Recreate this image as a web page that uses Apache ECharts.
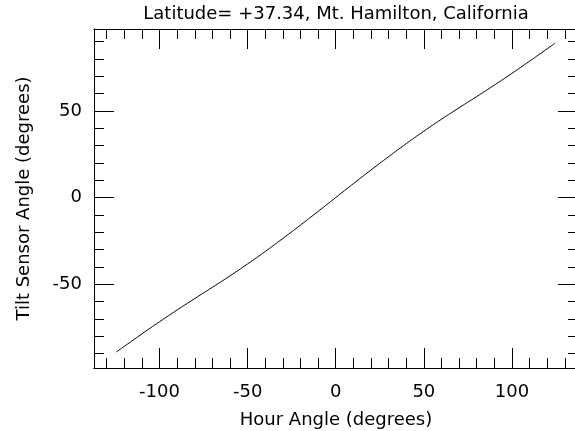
<!DOCTYPE html>
<html><head><meta charset="utf-8">
<script src="https://cdn.jsdelivr.net/npm/echarts@6/dist/echarts.min.js"></script>
<style>html,body{margin:0;padding:0;background:#fff}#c{width:575px;height:431px}</style>
</head><body><div id="c"></div>
<script>
const hourAngle = [-124.5,-120,-110,-100,-90,-80,-70,-60,-50,-40,-30,-20,-10,0,10,20,30,40,50,60,70,80,90,100,110,120,124.5];
const tiltAngle = [-89.1,-85.9,-78.7,-71.7,-64.9,-58.3,-51.8,-45.2,-38.3,-31.1,-23.6,-15.9,-8,0,8,15.9,23.6,31.1,38.3,45.2,51.8,58.3,64.9,71.7,78.7,85.9,89.1];
const xMajorTicks = [-100,-50,0,50,100];
const xMinorTicks = [-130,-120,-110,-90,-80,-70,-60,-40,-30,-20,-10,10,20,30,40,60,70,80,90,110,120,130];
const yMajorTicks = [-50,0,50];
const yMinorTicks = [-90,-80,-70,-60,-40,-30,-20,-10,10,20,30,40,60,70,80,90];
const titleText = 'Latitude= +37.34, Mt. Hamilton, California';
const xName = 'Hour Angle (degrees)';
const yName = 'Tilt Sensor Angle (degrees)';

const FONT = 'DejaVu Sans';
const FS = 18;
const X_MIN = -137.2, X_MAX = 137.5, Y_MIN = -98.4, Y_MAX = 97.3;
const lineStyle = {color:'#000', width:1};

function xAx(pos, ticks, len, labels, name) {
  return {
    type:'value', position:pos, min:X_MIN, max:X_MAX,
    axisLine:{show:true, onZero:false, lineStyle},
    axisTick:{show:true, inside:true, length:len, customValues:ticks, lineStyle},
    axisLabel:{show:labels, customValues:ticks, margin:15, color:'#000', fontFamily:FONT, fontSize:FS},
    splitLine:{show:false},
    name: name || '', nameLocation:'middle', nameGap:43,
    nameTextStyle:{color:'#000', fontFamily:FONT, fontSize:FS}
  };
}
function yAx(pos, ticks, len, labels, name) {
  return {
    type:'value', position:pos, min:Y_MIN, max:Y_MAX,
    axisLine:{show:true, onZero:false, lineStyle},
    axisTick:{show:true, inside:true, length:len, customValues:ticks, lineStyle},
    axisLabel:{show:labels, customValues:ticks, margin:12, color:'#000', fontFamily:FONT, fontSize:FS},
    splitLine:{show:false},
    name: name || '', nameLocation:'middle', nameGap:61,
    nameTextStyle:{color:'#000', fontFamily:FONT, fontSize:FS}
  };
}

const data = hourAngle.map((h,i)=>[h, tiltAngle[i]]);
const chart = echarts.init(document.getElementById('c'), null, {renderer:'canvas'});
chart.setOption({
  animation:false,
  backgroundColor:'#fff',
  title:{text:titleText, left:336, textAlign:'center', top:5, padding:0,
    textStyle:{color:'#000', fontFamily:FONT, fontSize:FS, fontWeight:'normal'}},
  grid:{left:94, right:-3, top:29, bottom:63, containLabel:false, outerBoundsMode:'none'},
  xAxis:[
    xAx('bottom', xMajorTicks, 20, true, xName),
    xAx('bottom', xMinorTicks, 10, false),
    xAx('top', xMajorTicks, 20, false),
    xAx('top', xMinorTicks, 10, false)
  ],
  yAxis:[
    yAx('left', yMajorTicks, 20, true, yName),
    yAx('left', yMinorTicks, 10, false),
    yAx('right', yMajorTicks, 20, false),
    yAx('right', yMinorTicks, 10, false)
  ],
  series:[{
    type:'line', data, xAxisIndex:0, yAxisIndex:0,
    showSymbol:false, smooth:true, lineStyle:{color:'#000', width:1}
  }]
});
</script></body></html>
